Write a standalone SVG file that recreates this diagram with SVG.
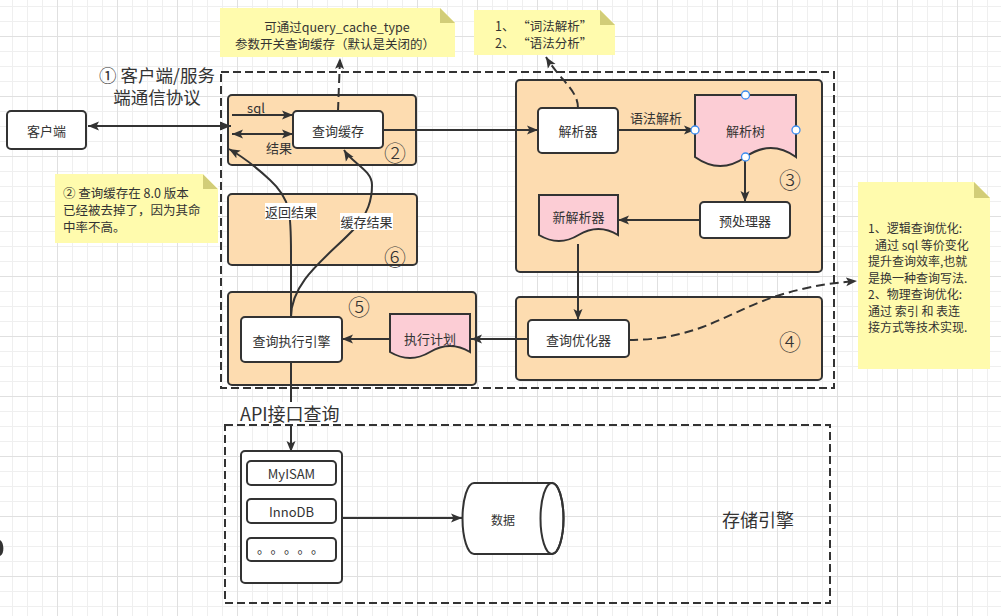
<svg xmlns="http://www.w3.org/2000/svg" width="1001" height="616" viewBox="0 0 1001 616">
<defs>
<pattern id="grid" x="12" y="6" width="60" height="60" patternUnits="userSpaceOnUse">
<path d="M15.5,0V60M30.5,0V60M0,15.5H60M0,45.5H60M0,0.5H60M0.5,0V60" stroke="#efefef" stroke-width="1" fill="none"/>
<path d="M45.5,0V60M0,30.5H60" stroke="#e0e0e0" stroke-width="1" fill="none"/>
</pattern>
<marker id="ae" viewBox="0 0 12 10" refX="11" refY="5" markerWidth="12" markerHeight="10" orient="auto" markerUnits="userSpaceOnUse"><path d="M0,0.5 L11,5 L0,9.5 L2.5,5 Z" fill="#333"/></marker>
<marker id="as" viewBox="0 0 12 10" refX="1" refY="5" markerWidth="12" markerHeight="10" orient="auto" markerUnits="userSpaceOnUse"><path d="M12,0.5 L1,5 L12,9.5 L9.5,5 Z" fill="#333"/></marker>
</defs>
<style>
text{font-family:"Noto Sans CJK SC","Noto Sans",sans-serif;fill:#333;}
.t13{font-size:13px;text-anchor:middle;dominant-baseline:central;}
.t12{font-size:12px;}
.num{font-size:22px;text-anchor:middle;dominant-baseline:central;font-weight:300;}
.grp{fill:#fddcb0;stroke:#333;stroke-width:2;}
.wb{fill:#fff;stroke:#333;stroke-width:2;}
.doc{fill:#fccdd5;stroke:#333;stroke-width:2;}
.dash{fill:none;stroke:#333;stroke-width:2;stroke-dasharray:8 4;}
.note{fill:#fffbad;}
.fold{fill:#d2cd78;}
.ln{fill:none;stroke:#333;stroke-width:2;}
.dl{fill:none;stroke:#333;stroke-width:2;stroke-dasharray:9 5;}
.h{fill:#fff;stroke:#3b8cf0;stroke-width:1.3;}
</style>
<rect width="1001" height="616" fill="#fff"/>
<rect width="1001" height="616" fill="url(#grid)"/>
<path d="M0,540 C4,542 5,554 0,556 Z" fill="#333"/>

<g id="server-frame"><rect class="dash" x="221" y="72" width="613" height="316"/></g>
<g id="storage-frame"><rect class="dash" x="225" y="425" width="605" height="178"/></g>

<g id="protocol-label">
<text style="font-size:17.5px;text-anchor:middle"><tspan x="157" y="82">① 客户端/服务</tspan><tspan x="157" y="104">端通信协议</tspan></text>
</g>

<g id="client"><rect class="wb" x="7" y="111" width="79" height="38" rx="4"/><text class="t13" x="46.5" y="130">客户端</text></g>

<g id="group2"><rect class="grp" x="228" y="95" width="188" height="70" rx="4"/><text class="num" x="395" y="151">②</text></g>
<g id="group6"><rect class="grp" x="228" y="194" width="189" height="71" rx="4"/><text class="num" x="395" y="255">⑥</text></g>
<g id="group5"><rect class="grp" x="228" y="292" width="248" height="93" rx="4"/><text class="num" x="359" y="305">⑤</text></g>
<g id="group3"><rect class="grp" x="516" y="80" width="306" height="192" rx="4"/><text class="num" x="790" y="178">③</text></g>
<g id="group4"><rect class="grp" x="516" y="297" width="306" height="83" rx="4"/><text class="num" x="790" y="340">④</text></g>

<g id="note1">
<path class="note" d="M220,8 H440 L455,23 V57 H220 Z"/><path class="fold" d="M440,8 L440,23 L455,23 Z"/>
<text x="337" y="26" style="font-size:12.5px;text-anchor:middle;dominant-baseline:central">可通过query_cache_type</text>
<text x="335" y="43" style="font-size:12.5px;text-anchor:middle;dominant-baseline:central">参数开关查询缓存（默认是关闭的）</text>
</g>
<g id="note2">
<path class="note" d="M474,10 H600 L615,25 V55 H474 Z"/><path class="fold" d="M600,10 L600,25 L615,25 Z"/>
<text x="495" y="25" style="font-size:12.5px;dominant-baseline:central">1、 “词法解析”</text>
<text x="495" y="42" style="font-size:12.5px;dominant-baseline:central">2、 “语法分析”</text>
</g>
<g id="note-cache">
<rect class="note" x="55" y="174" width="163" height="69"/><path class="fold" d="M203,174 L203,189 L218,189 Z"/><path d="M203,174 L218,189 V174 Z" fill="#fff"/>
<text x="63" y="192" style="font-size:12.5px;dominant-baseline:central">② 查询缓存在 8.0 版本</text>
<text x="63" y="209" style="font-size:12.5px;dominant-baseline:central">已经被去掉了，因为其命</text>
<text x="63" y="226" style="font-size:12.5px;dominant-baseline:central">中率不高。</text>
</g>
<g id="note3">
<path class="note" d="M858,182 H974 L990,198 V369 H858 Z"/><path class="fold" d="M974,182 L974,198 L990,198 Z"/>
<text class="t12" x="868" y="227.5" dominant-baseline="central">1、逻辑查询优化:</text>
<text class="t12" x="875" y="244" dominant-baseline="central">通过 sql 等价变化</text>
<text class="t12" x="868" y="260.5" dominant-baseline="central">提升查询效率,也就</text>
<text class="t12" x="868" y="277" dominant-baseline="central">是换一种查询写法.</text>
<text class="t12" x="868" y="293.5" dominant-baseline="central">2、物理查询优化:</text>
<text class="t12" x="868" y="310" dominant-baseline="central">通过 索引 和 表连</text>
<text class="t12" x="868" y="326.5" dominant-baseline="central">接方式等技术实现.</text>
</g>

<g id="connectors">
<line class="ln" x1="88" y1="126" x2="231" y2="126" marker-start="url(#as)" marker-end="url(#ae)"/>
<line class="ln" x1="232" y1="115" x2="293" y2="115" marker-end="url(#ae)"/>
<line class="ln" x1="232" y1="134" x2="293" y2="134" marker-start="url(#as)" marker-end="url(#ae)"/>
<line class="ln" x1="383" y1="130" x2="538" y2="130" marker-end="url(#ae)"/>
<path class="dl" d="M338,111 L340,58" marker-end="url(#ae)"/>
<path class="dl" d="M578,108 C578,90 560,80 546,57" marker-end="url(#ae)"/>
<line class="ln" x1="618" y1="130" x2="695" y2="130" marker-end="url(#ae)"/>
<line class="ln" x1="745" y1="157" x2="745" y2="202" marker-end="url(#ae)"/>
<line class="ln" x1="700" y1="220" x2="618" y2="220" marker-end="url(#ae)"/>
<line class="ln" x1="578" y1="244" x2="578" y2="320" marker-end="url(#ae)"/>
<line class="ln" x1="528" y1="339" x2="471" y2="339" marker-end="url(#ae)"/>
<line class="ln" x1="390" y1="339" x2="342" y2="339" marker-end="url(#ae)"/>
<path class="dl" d="M629,340 C700,340 730,310 780,295 C810,286 830,283 857,281" marker-end="url(#ae)"/>
<path class="ln" d="M291,317 L291,260 C291,215 292,200 270,180 C255,166 245,158 229,149" marker-end="url(#ae)"/>
<path class="ln" d="M291,317 C291,280 330,255 355,228 C368,213 372,200 372,185 C372,170 352,163 344,150" marker-end="url(#ae)"/>
<line class="ln" x1="291" y1="362" x2="291" y2="452" marker-end="url(#ae)"/>
<line class="ln" x1="342" y1="518" x2="462" y2="518" marker-end="url(#ae)"/>
<text x="256" y="107" style="font-size:13px;text-anchor:middle;dominant-baseline:central">sql</text>
<text x="279" y="147" style="font-size:13px;text-anchor:middle;dominant-baseline:central">结果</text>
<text x="656" y="117" style="font-size:13px;text-anchor:middle;dominant-baseline:central">语法解析</text>
<rect x="265" y="203" width="52" height="17" fill="#fff"/>
<text x="291" y="211.5" style="font-size:13px;text-anchor:middle;dominant-baseline:central">返回结果</text>
<rect x="340" y="213" width="53" height="17" fill="#fff"/>
<text x="366.5" y="221.5" style="font-size:13px;text-anchor:middle;dominant-baseline:central">缓存结果</text>
<rect x="239" y="402" width="103" height="22" fill="#fff"/>
<text x="240" y="413" style="font-size:18px;dominant-baseline:central">API接口查询</text>
</g>

<g id="query-cache"><rect class="wb" x="293" y="111" width="90" height="37" rx="4"/><text class="t13" x="338" y="130">查询缓存</text></g>
<g id="parser"><rect class="wb" x="538" y="108" width="80" height="45" rx="4"/><text class="t13" x="578" y="130.5">解析器</text></g>
<g id="parse-tree">
<path class="doc" d="M695,95 H796 V157 Q770.75,139 745.5,157 Q720.25,175 695,157 Z"/>
<text class="t13" x="745.5" y="130">解析树</text>
<circle class="h" cx="745.5" cy="95" r="4"/><circle class="h" cx="695" cy="130" r="4"/><circle class="h" cx="796" cy="130" r="4"/><circle class="h" cx="745.5" cy="157" r="4"/>
</g>
<g id="preprocessor"><rect class="wb" x="700" y="202" width="90" height="36" rx="4"/><text class="t13" x="745" y="220">预处理器</text></g>
<g id="new-parser"><path class="doc" d="M539,195 H618 V235 Q598.5,223 578.5,235 Q559,247 539,235 Z"/><text class="t13" x="578.5" y="216">新解析器</text></g>
<g id="optimizer"><rect class="wb" x="528" y="320" width="101" height="37" rx="4"/><text class="t13" x="578.5" y="339">查询优化器</text></g>
<g id="exec-plan"><path class="doc" d="M390,314 H470 V352 Q450,340 430,352 Q410,364 390,352 Z"/><text class="t13" x="430" y="338">执行计划</text></g>
<g id="exec-engine"><rect class="wb" x="241" y="317" width="101" height="45" rx="4"/><text class="t13" x="291.5" y="340">查询执行引擎</text></g>

<g id="engines">
<rect class="wb" x="241" y="451" width="101" height="132" rx="4"/>
<rect class="wb" x="247" y="461" width="89" height="24" rx="4"/><text class="t13" x="291.5" y="473">MyISAM</text>
<rect class="wb" x="247" y="499" width="89" height="24" rx="4"/><text class="t13" x="291.5" y="511">InnoDB</text>
<rect class="wb" x="247" y="538" width="89" height="23" rx="4"/><text x="257" y="547" style="font-size:13px;letter-spacing:7px;dominant-baseline:central">。。。。。</text>
</g>
<g id="data">
<path class="wb" d="M474,483 H552 A11.5,35.5 0 0 1 552,554 H474 A11.5,35.5 0 0 1 474,483 Z"/>
<ellipse cx="552" cy="518.5" rx="11.5" ry="35.5" fill="none" stroke="#333" stroke-width="2"/>
<text x="503" y="519" style="font-size:12px;text-anchor:middle;dominant-baseline:central">数据</text>
</g>
<g id="storage-label"><text x="758" y="519" style="font-size:18px;text-anchor:middle;dominant-baseline:central">存储引擎</text></g>
</svg>
